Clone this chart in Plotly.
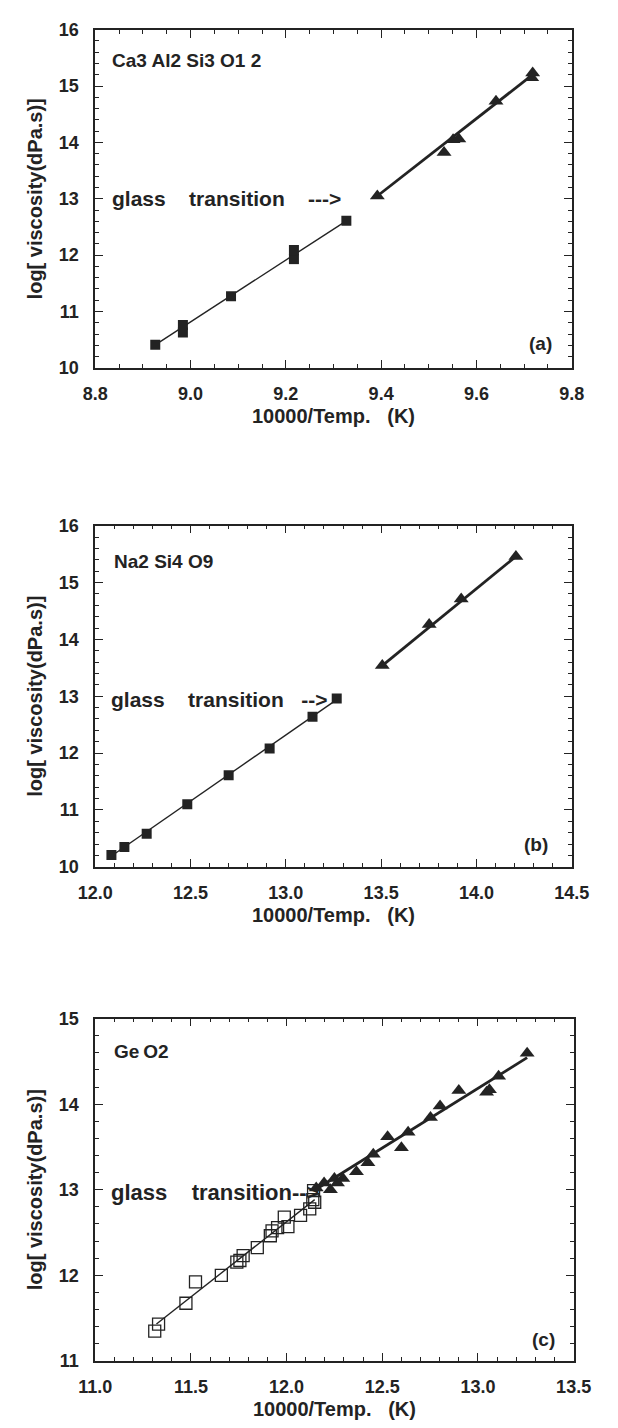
import plotly.graph_objects as go

# ---------------- data ----------------
# (a) Ca3Al2Si3O12
a_liq_x = [8.926, 8.984, 8.984, 9.085, 9.217, 9.217, 9.327]
a_liq_y = [10.41, 10.63, 10.76, 11.27, 11.93, 12.09, 12.61]
a_gl_x = [9.392, 9.532, 9.551, 9.563, 9.641, 9.716, 9.718]
a_gl_y = [13.05, 13.82, 14.05, 14.06, 14.73, 15.15, 15.23]
a_fit_liq_x = [8.926, 9.327]
a_fit_liq_y = [10.41, 12.61]
a_fit_gl_x = [9.392, 9.716]
a_fit_gl_y = [13.05, 15.19]

# (b) Na2Si4O9
b_liq_x = [12.085, 12.153, 12.27, 12.483, 12.70, 12.915, 13.14, 13.267]
b_liq_y = [10.21, 10.35, 10.58, 11.10, 11.61, 12.08, 12.64, 12.96]
b_gl_x = [13.506, 13.752, 13.92, 14.207]
b_gl_y = [13.54, 14.26, 14.71, 15.46]
b_fit_liq_x = [12.085, 13.267]
b_fit_liq_y = [10.19, 12.94]
b_fit_gl_x = [13.506, 14.207]
b_fit_gl_y = [13.54, 15.46]

# (c) GeO2
c_liq_x = [11.311, 11.331, 11.474, 11.524, 11.659, 11.74, 11.756, 11.773, 11.847, 11.915,
           11.924, 11.953, 11.988, 12.007, 12.073, 12.121, 12.137, 12.147, 12.141]
c_liq_y = [11.346, 11.43, 11.673, 11.923, 12.0, 12.154, 12.173, 12.23, 12.323, 12.462,
           12.52, 12.558, 12.681, 12.569, 12.70, 12.777, 12.885, 12.854, 12.99]
c_gl_x = [12.155, 12.196, 12.229, 12.25, 12.266, 12.294, 12.365, 12.425, 12.453, 12.528,
          12.6, 12.635, 12.752, 12.802, 12.9, 13.045, 13.06, 13.108, 13.257]
c_gl_y = [13.02, 13.08, 13.0, 13.13, 13.08, 13.13, 13.21, 13.315, 13.415, 13.62,
          13.49, 13.673, 13.846, 13.98, 14.16, 14.14, 14.17, 14.326, 14.596]
c_fit_liq_x = [11.32, 12.147]
c_fit_liq_y = [11.43, 12.885]
c_fit_gl_x = [12.15, 13.257]
c_fit_gl_y = [13.0, 14.545]

panel_labels = ["(a)", "(b)", "(c)"]
compounds = ["Ca3 Al2 Si3 O1 2", "Na2 Si4 O9", "Ge\u2009O2"]
glass_texts = ["glass\u00a0\u00a0\u00a0\u00a0transition\u00a0\u00a0\u00a0\u00a0--->",
               "glass\u00a0\u00a0\u00a0\u00a0transition\u00a0\u00a0\u00a0-->",
               "glass\u00a0\u00a0\u00a0\u00a0transition-->"]
x_title = "10000/Temp.\u00a0\u00a0\u00a0(K)"
y_title = "log[ viscosity(dPa.s)]"

# ---------------- style ----------------
INK = "#232323"
FONT = "Liberation Sans, Arial, sans-serif"
W, H = 618, 1428

fig = go.Figure()

def add_panel(i, lx, ly, gx, gy, flx, fly, fgx, fgy, open_sq):
    xa = "x" if i == 1 else f"x{i}"
    ya = "y" if i == 1 else f"y{i}"
    fig.add_trace(go.Scatter(x=flx, y=fly, mode="lines", xaxis=xa, yaxis=ya,
                             line=dict(color=INK, width=1.4), hoverinfo="skip"))
    fig.add_trace(go.Scatter(x=fgx, y=fgy, mode="lines", xaxis=xa, yaxis=ya,
                             line=dict(color=INK, width=2.8), hoverinfo="skip"))
    if open_sq:
        fig.add_trace(go.Scatter(x=lx, y=ly, mode="markers", xaxis=xa, yaxis=ya,
                                 marker=dict(symbol="square-open", size=12, color=INK,
                                             line=dict(width=1.3, color=INK))))
    else:
        fig.add_trace(go.Scatter(x=lx, y=ly, mode="markers", xaxis=xa, yaxis=ya,
                                 marker=dict(symbol="square", size=10, color=INK)))
    fig.add_trace(go.Scatter(x=gx, y=gy, mode="markers", xaxis=xa, yaxis=ya,
                             marker=dict(symbol="triangle-up", size=13, color=INK)))

add_panel(1, a_liq_x, a_liq_y, a_gl_x, a_gl_y, a_fit_liq_x, a_fit_liq_y, a_fit_gl_x, a_fit_gl_y, False)
add_panel(2, b_liq_x, b_liq_y, b_gl_x, b_gl_y, b_fit_liq_x, b_fit_liq_y, b_fit_gl_x, b_fit_gl_y, False)
add_panel(3, c_liq_x, c_liq_y, c_gl_x, c_gl_y, c_fit_liq_x, c_fit_liq_y, c_fit_gl_x, c_fit_gl_y, True)

# pixel frames (left, right, top, bottom)
frames = [(82, 588, 20, 363), (82, 588, 523, 869), (82, 590, 1023, 1370)]
xranges = [[8.8, 9.8], [12.0, 14.5], [11.0, 13.5]]
yranges = [[10, 16], [10, 16], [11, 15]]
xdt = [0.2, 0.5, 0.5]
xminor = [0.05, 0.1, 0.1]
ydt = [1, 1, 1]
yminor = [0.2, 0.2, 0.2]
xfmt = [".1f", ".1f", ".1f"]

tickfont = dict(family=FONT, size=18, color=INK, weight="bold")
titlefont = dict(family=FONT, size=20, color=INK, weight="bold")

layout = {}
for k, (fr, xr, yr) in enumerate(zip(frames, xranges, yranges)):
    i = k + 1
    l, r, t, b = fr
    xd = [l / W, r / W]
    yd = [1 - b / H, 1 - t / H]
    xn = "xaxis" if i == 1 else f"xaxis{i}"
    yn = "yaxis" if i == 1 else f"yaxis{i}"
    common = dict(showline=True, linewidth=1.6, linecolor=INK, mirror="allticks",
                  ticks="inside", ticklen=8, tickwidth=1.4, tickcolor=INK,
                  showgrid=False, zeroline=False, tickfont=tickfont, fixedrange=True)
    layout[xn] = dict(common, domain=xd, range=xr, anchor="y" if i == 1 else f"y{i}",
                      dtick=xdt[k], tick0=xr[0], tickformat=xfmt[k],
                      minor=dict(dtick=xminor[k], ticks="inside", ticklen=4, tickwidth=1.2,
                                 tickcolor=INK, showgrid=False),
                      title=dict(text=x_title, font=titlefont, standoff=6),
                      ticklabelstandoff=9)
    layout[yn] = dict(common, domain=yd, range=yr, anchor="x" if i == 1 else f"x{i}",
                      dtick=ydt[k], tick0=yr[0],
                      minor=dict(dtick=yminor[k], ticks="inside", ticklen=4, tickwidth=1.2,
                                 tickcolor=INK, showgrid=False),
                      title=dict(text=y_title, font=titlefont, standoff=11),
                      ticklabelstandoff=11)

fig.update_layout(**layout)

ann = []
comp_pos = [(0.030, 0.910), (0.035, 0.895), (0.036, 0.903)]
glass_y = [13.0, 12.95, 12.97]
glass_x = [0.031, 0.029, 0.029]
lab_pos = [(0.9625, 0.073), (0.955, 0.066), (0.966, 0.063)]
for k in range(3):
    i = k + 1
    xd = "x domain" if i == 1 else f"x{i} domain"
    yd = "y domain" if i == 1 else f"y{i} domain"
    yy = "y" if i == 1 else f"y{i}"
    ann.append(dict(text=compounds[k], xref=xd, yref=yd, x=comp_pos[k][0], y=comp_pos[k][1],
                    xanchor="left", yanchor="middle", showarrow=False,
                    font=dict(family=FONT, size=19, color=INK, weight="bold")))
    ann.append(dict(text=glass_texts[k], xref=xd, yref=yy, x=glass_x[k], y=glass_y[k],
                    xanchor="left", yanchor="middle", showarrow=False,
                    font=dict(family=FONT, size=21 if k < 2 else 22, color=INK, weight="bold")))
    ann.append(dict(text=panel_labels[k], xref=xd, yref=yd, x=lab_pos[k][0], y=lab_pos[k][1],
                    xanchor="right", yanchor="middle", showarrow=False,
                    font=dict(family=FONT, size=19, color=INK, weight="bold")))

fig.update_layout(width=W, height=H, margin=dict(l=0, r=0, t=0, b=0),
                  paper_bgcolor="white", plot_bgcolor="white", showlegend=False,
                  annotations=ann)

fig.write_html("out.html")
